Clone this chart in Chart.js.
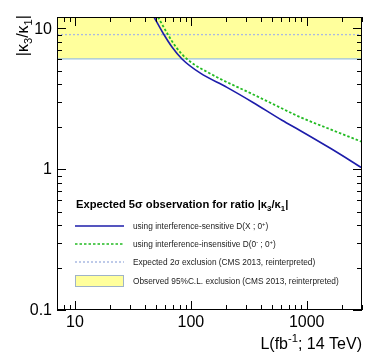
<!DOCTYPE html>
<html><head><meta charset="utf-8">
<script src="https://cdn.jsdelivr.net/npm/chart.js@4"></script>
<style>html,body{margin:0;padding:0;background:#fff}canvas{display:block}</style>
</head><body>
<div style="width:382px;height:363px"><canvas id="c" width="382" height="363"></canvas></div>
<script>
// ---- data ----
const xMin = 7, xMax = 3000, yMin = 0.1, yMax = 12;
const xMajor = [10, 100, 1000];
const yMajor = [0.1, 1, 10];
const xTickLabels = ['10', '100', '1000'];
const yTickLabels = ['0.1', '1', '10'];
const lumiSensitive  = [48.1, 57.5, 68.8, 83.9, 120, 205, 344, 612, 875, 1587, 3000];
const ratioSensitive = [12.0, 9.24, 7.35, 6.04, 4.81, 3.80, 2.97, 2.22, 1.88, 1.41, 1.02];
const lumiInsensitive  = [52.1, 62.3, 74.4, 92.6, 155, 324, 532, 875, 1587, 3000];
const ratioInsensitive = [12.0, 9.24, 7.35, 6.04, 4.65, 3.47, 2.85, 2.34, 1.92, 1.56];
const expectedExclusion = 9.0;
const observedExclusion = 6.05;
const legendTitle = 'Expected 5σ observation for ratio |κ_{3}/κ_{1}|';
const legendLabels = [
  'using interference-sensitive D(X ; 0^{+})',
  'using interference-insensitive D(0^{-} ; 0^{+})',
  'Expected 2σ exclusion (CMS 2013, reinterpreted)',
  'Observed 95%C.L. exclusion (CMS 2013, reinterpreted)'
];
const xTitle = 'L(fb^{-1}; 14 TeV)';
const yTitle = '|κ_{3}/κ_{1}|';

const FONT = '"Liberation Sans", Arial, Helvetica, sans-serif';
const C_BLUE = '#1c1caa', C_GREEN = '#22bb22', C_EXP = '#a9b9e2', C_BAND = '#ffff9c', C_BANDLINE = '#9cc2e0';

function pts(xs, ys) { return xs.map((x, i) => ({x, y: ys[i]})); }

// rich text: ^{..} superscript, _{..} subscript
function parseRich(s) {
  const out = []; let i = 0, buf = '';
  while (i < s.length) {
    if ((s[i] === '^' || s[i] === '_') && s[i+1] === '{') {
      if (buf) { out.push({t: buf, m: 0}); buf = ''; }
      const j = s.indexOf('}', i);
      out.push({t: s.slice(i+2, j), m: s[i] === '^' ? 1 : -1});
      i = j + 1;
    } else { buf += s[i]; i++; }
  }
  if (buf) out.push({t: buf, m: 0});
  return out;
}
function richDraw(ctx, s, x, y, size, weight, align, color) {
  const segs = parseRich(s);
  const f = (sz) => (weight ? weight + ' ' : '') + sz + 'px ' + FONT;
  let w = 0;
  segs.forEach(g => { ctx.font = f(g.m ? size * 0.7 : size); g.w = ctx.measureText(g.t).width; w += g.w; });
  let cx = align === 'right' ? x - w : (align === 'center' ? x - w / 2 : x);
  ctx.fillStyle = color || '#000';
  ctx.textBaseline = 'alphabetic';
  ctx.textAlign = 'left';
  segs.forEach(g => {
    ctx.font = f(g.m ? size * 0.7 : size);
    const dy = g.m === 1 ? -size * 0.42 : (g.m === -1 ? size * 0.25 : 0);
    ctx.fillText(g.t, cx, y + dy);
    cx += g.w;
  });
}

const decor = {
  id: 'decor',
  afterDatasetsDraw(chart) {
    const ctx = chart.ctx, a = chart.chartArea;
    const xs = chart.scales.x, ys = chart.scales.y;
    ctx.save();
    // frame
    ctx.strokeStyle = '#000'; ctx.lineWidth = 1;
    ctx.strokeRect(Math.round(a.left) + 0.5, Math.round(a.top) + 0.5, Math.round(a.right - a.left) - 1, Math.round(a.bottom - a.top) - 1);
    // ticks
    function logTicks(mn, mx) {
      const t = [];
      for (let e = Math.floor(Math.log10(mn)); e <= Math.ceil(Math.log10(mx)); e++) {
        for (let k = 1; k <= 9; k++) {
          const v = k * Math.pow(10, e);
          if (v >= mn * 0.999 && v <= mx * 1.001) t.push({v, major: k === 1});
        }
      }
      return t;
    }
    ctx.beginPath();
    logTicks(xMin, xMax).forEach(t => {
      const px = Math.round(xs.getPixelForValue(t.v)) + 0.5;
      const L = t.major ? 9 : 5;
      ctx.moveTo(px, a.bottom); ctx.lineTo(px, a.bottom - L);
      ctx.moveTo(px, a.top); ctx.lineTo(px, a.top + L);
    });
    logTicks(yMin, yMax).forEach(t => {
      const py = Math.round(ys.getPixelForValue(t.v)) + 0.5;
      const L = t.major ? 9 : 5;
      ctx.moveTo(a.left, py); ctx.lineTo(a.left + L, py);
      ctx.moveTo(a.right, py); ctx.lineTo(a.right - L, py);
    });
    ctx.stroke();
    // tick labels
    ctx.fillStyle = '#000'; ctx.font = '16px ' + FONT;
    ctx.textAlign = 'center'; ctx.textBaseline = 'top';
    xMajor.forEach((v, i) => ctx.fillText(xTickLabels[i], xs.getPixelForValue(v), a.bottom + 5));
    ctx.textAlign = 'right'; ctx.textBaseline = 'middle';
    yMajor.forEach((v, i) => ctx.fillText(yTickLabels[i], a.left - 5, ys.getPixelForValue(v) + 1));
    // axis titles
    richDraw(ctx, xTitle, a.right, 349, 16, '', 'right');
    ctx.save();
    ctx.translate(28, a.top - 2);
    ctx.rotate(-Math.PI / 2);
    richDraw(ctx, yTitle, 0, 0, 16, '', 'right');
    ctx.restore();
    // legend
    const lx = 75, lw = 49, tx = 133;
    richDraw(ctx, legendTitle, lx + 1, 208, 11.2, 'bold', 'left');
    const rows = [226, 244, 262, 281];
    ctx.lineWidth = 1.6;
    ctx.strokeStyle = C_BLUE; ctx.setLineDash([]);
    ctx.beginPath(); ctx.moveTo(lx, rows[0]); ctx.lineTo(lx + lw, rows[0]); ctx.stroke();
    ctx.strokeStyle = C_GREEN; ctx.setLineDash([2.5, 2]);
    ctx.beginPath(); ctx.moveTo(lx, rows[1]); ctx.lineTo(lx + lw, rows[1]); ctx.stroke();
    ctx.strokeStyle = C_EXP; ctx.setLineDash([2, 2]); ctx.lineWidth = 1.3;
    ctx.beginPath(); ctx.moveTo(lx, rows[2]); ctx.lineTo(lx + lw, rows[2]); ctx.stroke();
    ctx.setLineDash([]);
    ctx.fillStyle = C_BAND; ctx.fillRect(lx, rows[3] - 6, lw, 12);
    ctx.strokeStyle = '#9fb3c8'; ctx.lineWidth = 1;
    ctx.strokeRect(lx + 0.5, rows[3] - 5.5, lw - 1, 11);
    legendLabels.forEach((s, i) => richDraw(ctx, s, tx, rows[i] + 3, 8.3, '', 'left', '#222'));
    ctx.restore();
  }
};

new Chart(document.getElementById('c'), {
  type: 'line',
  data: {
    datasets: [
      { label: legendLabels[3], order: 4, data: [{x: xMin, y: observedExclusion}, {x: xMax, y: observedExclusion}],
        borderColor: C_BANDLINE, borderWidth: 1.2, backgroundColor: C_BAND, fill: 'end', pointRadius: 0 },
      { label: legendLabels[2], order: 3, data: [{x: xMin, y: expectedExclusion}, {x: xMax, y: expectedExclusion}],
        borderColor: C_EXP, borderWidth: 1.3, borderDash: [2, 2], fill: false, pointRadius: 0 },
      { label: legendLabels[1], order: 2, data: pts(lumiInsensitive, ratioInsensitive),
        borderColor: C_GREEN, borderWidth: 1.8, borderDash: [2.5, 2], fill: false, pointRadius: 0, cubicInterpolationMode: 'monotone' },
      { label: legendLabels[0], order: 1, data: pts(lumiSensitive, ratioSensitive),
        borderColor: C_BLUE, borderWidth: 1.6, fill: false, pointRadius: 0, cubicInterpolationMode: 'monotone' }
    ]
  },
  options: {
    responsive: false, animation: false, devicePixelRatio: 1,
    layout: { padding: { left: 57, top: 17, right: 20, bottom: 53 } },
    scales: {
      x: { type: 'logarithmic', min: xMin, max: xMax, display: false },
      y: { type: 'logarithmic', min: yMin, max: yMax, display: false }
    },
    plugins: { legend: { display: false }, tooltip: { enabled: false } }
  },
  plugins: [decor]
});
</script>
</body></html>
